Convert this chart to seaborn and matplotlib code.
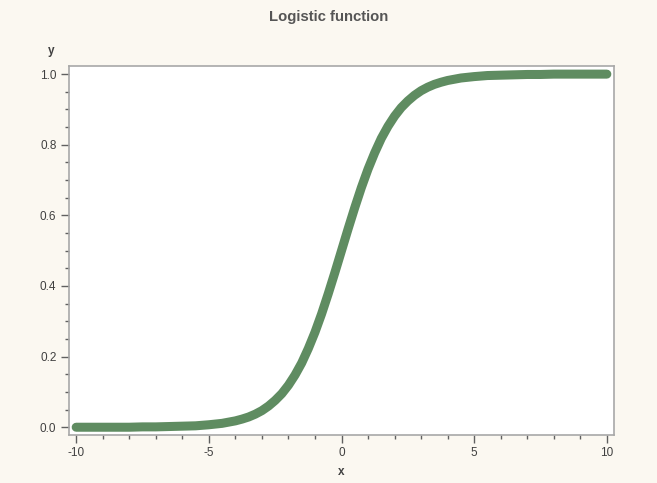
import matplotlib
matplotlib.use("Agg")
import matplotlib.pyplot as plt
from matplotlib.ticker import MultipleLocator
import seaborn as sns
import pandas as pd

# Values
x_vals = [-10, -9.5, -9, -8.5, -8, -7.5, -7, -6.5, -6, -5.5, -5, -4.5, -4, -3.75,
          -3.5, -3.25, -3, -2.75, -2.5, -2.25, -2, -1.75, -1.5, -1.25, -1, -0.75,
          -0.5, -0.25, 0, 0.25, 0.5, 0.75, 1, 1.25, 1.5, 1.75, 2, 2.25, 2.5, 2.75,
          3, 3.25, 3.5, 3.75, 4, 4.5, 5, 5.5, 6, 6.5, 7, 7.5, 8, 8.5, 9, 9.5, 10]
y_vals = [0.000, 0.000, 0.000, 0.000, 0.000, 0.001, 0.001, 0.002, 0.003, 0.004,
          0.007, 0.011, 0.018, 0.023, 0.029, 0.037, 0.047, 0.060, 0.076, 0.095,
          0.119, 0.148, 0.182, 0.223, 0.269, 0.321, 0.378, 0.438, 0.500, 0.562,
          0.622, 0.679, 0.731, 0.777, 0.818, 0.852, 0.881, 0.905, 0.924, 0.940,
          0.953, 0.963, 0.971, 0.977, 0.982, 0.989, 0.993, 0.996, 0.997, 0.998,
          0.999, 0.999, 1.000, 1.000, 1.000, 1.000, 1.000]
x_ticks = [-10, -5, 0, 5, 10]
y_ticks = [0.0, 0.2, 0.4, 0.6, 0.8, 1.0]
title = "Logistic function"

df = pd.DataFrame({"x": x_vals, "y": y_vals})

sns.set_theme(style="white")
plt.rcParams['font.family'] = ['Liberation Sans', 'DejaVu Sans']

bg = "#fbf8f1"
fig = plt.figure(figsize=(6.57, 4.83), dpi=100, facecolor=bg)
ax = fig.add_axes([69/657, 1 - 435/483, (614-69)/657, (435-66)/483])
ax.set_facecolor("white")

sns.lineplot(data=df, x="x", y="y", ax=ax, color="#5f8c61", linewidth=6.5,
             solid_capstyle="round", solid_joinstyle="round")

ax.set_xlim(-10.27, 10.27)
ax.set_ylim(-0.022, 1.023)
ax.set_xticks(x_ticks)
ax.set_xticklabels([f"{t:g}" for t in x_ticks])
ax.set_yticks(y_ticks)
ax.set_yticklabels([f"{t:.1f}" for t in y_ticks])
ax.xaxis.set_minor_locator(MultipleLocator(1))
ax.yaxis.set_minor_locator(MultipleLocator(0.05))

frame_col = "#a8a8a8"
for s in ax.spines.values():
    s.set_color(frame_col)
    s.set_linewidth(1.2)

ax.tick_params(which="major", direction="out", length=6, width=1, color="#606060",
               labelsize=8.5, labelcolor="#404040", bottom=True, left=True, pad=3)
ax.tick_params(which="minor", direction="out", length=3, width=1, color="#606060",
               bottom=True, left=True)

ax.set_xlabel("")
ax.set_ylabel("")
fig.text(341/657, 1 - 472/483, "x", ha="center", va="center", fontsize=8.5,
         fontweight="bold", color="#404040")
fig.text(51/657, 1 - 51/483, "y", ha="center", va="center", fontsize=8.5,
         fontweight="bold", color="#404040")
fig.text(329/657, 1 - 17/483, title, ha="center", va="center", fontsize=10.7,
         fontweight="bold", color="#555555")

fig.savefig("out.png", dpi=100, facecolor=bg)
